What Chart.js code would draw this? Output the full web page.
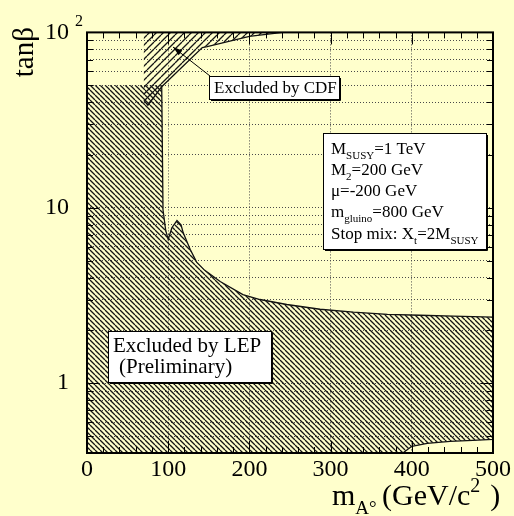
<!DOCTYPE html>
<html>
<head>
<meta charset="utf-8">
<script src="https://cdn.jsdelivr.net/npm/chart.js@4.4.1/dist/chart.umd.min.js"></script>
<style>
  html, body { margin: 0; padding: 0; background: #ffffcc; }
  #wrap { width: 514px; height: 516px; }
</style>
</head>
<body>
<div id="wrap"><canvas id="exclusion" width="514" height="516"></canvas></div>
<script>
// LEP excluded region: outline walked from the upper-left corner, along the limit curve,
// down the right edge, back along the low-tanb cut and the bottom edge
const lepMass = [0, 92, 93.6, 97, 100, 104.5, 110.8, 115.8, 118.5, 127, 135, 145, 164, 192, 213, 246, 287, 328, 370, 410, 451, 500,
                 500, 475, 447, 419, 400, 389, 0];
const lepTanb = [50, 50, 9.75, 7.4, 6.6, 7.7, 8.45, 8.0, 7.2, 5.8, 4.9, 4.4, 3.8, 3.2, 3.0, 2.81, 2.64, 2.54, 2.47, 2.44, 2.41, 2.38,
                 0.478, 0.472, 0.466, 0.454, 0.437, 0.4, 0.4];

// CDF excluded region (high tanb)
const cdfMass = [70, 70, 75, 92, 142, 148, 200, 241];
const cdfTanb = [100, 41, 38.5, 49, 82, 83, 95, 100];

// axis ranges and tick values
const massRange = [0, 500];
const tanbRange = [0.4, 100];
const tanbTicks = [0.5, 0.6, 0.7, 0.8, 0.9, 1, 2, 3, 4, 5, 6, 7, 8, 9, 10, 20, 30, 40, 50, 60, 70, 80, 90, 100];
const tanbLabelled = [1, 10, 100];

const SERIF = '"Liberation Serif", "DejaVu Serif", serif';

const canvas = document.getElementById('exclusion');
const ctx = canvas.getContext('2d');

// diagonal hatching, forward = '/' lines, otherwise '\'
function hatch(step, forward) {
    const c = document.createElement('canvas');
    c.width = c.height = step;
    const g = c.getContext('2d');
    g.strokeStyle = '#151515';
    g.lineWidth = 1.3;
    g.beginPath();
    for (const o of [-step, 0, step]) {
        if (forward) { g.moveTo(o, step); g.lineTo(o + step, 0); }
        else { g.moveTo(o, 0); g.lineTo(o + step, step); }
    }
    g.stroke();
    return ctx.createPattern(c, 'repeat');
}

function toPoints(xs, ys) {
    return xs.map((x, i) => ({ x: x, y: ys[i] }));
}

// small helper for text with sub/superscripts
function richText(g, x, y, runs, size) {
    for (const [txt, kind] of runs) {
        let s = size, dy = 0;
        if (kind === 'sub') { s = Math.round(size * 0.62); dy = size * 0.3; }
        if (kind === 'sup') { s = Math.round(size * 0.65); dy = -size * 0.45; }
        g.font = s + 'px ' + SERIF;
        g.fillText(txt, x, y + dy);
        x += g.measureText(txt).width;
    }
    return x;
}

function pave(g, x, y, w, h) {
    g.fillStyle = '#ffffff';
    g.fillRect(x, y, w, h);
    g.strokeStyle = '#000';
    g.lineWidth = 1;
    g.strokeRect(x + 0.5, y + 0.5, w, h);
    g.beginPath();
    g.moveTo(x + w + 1.5, y + 2);
    g.lineTo(x + w + 1.5, y + h + 1.5);
    g.lineTo(x + 2, y + h + 1.5);
    g.stroke();
    g.fillStyle = '#000';
}

const decorations = {
    id: 'decorations',
    afterDraw(chart) {
        const g = chart.ctx;
        const xs = chart.scales.x, ys = chart.scales.y;
        const ca = chart.chartArea;
        g.save();

        // tick marks on all four sides
        g.strokeStyle = '#000';
        g.lineWidth = 1;
        g.beginPath();
        for (const v of tanbTicks) {
            const py = Math.round(ys.getPixelForValue(v)) + 0.5;
            const len = tanbLabelled.includes(v) ? 12 : 6;
            g.moveTo(ca.left, py); g.lineTo(ca.left + len, py);
            g.moveTo(ca.right, py); g.lineTo(ca.right - len, py);
        }
        for (let v = massRange[0]; v <= massRange[1]; v += 20) {
            const px = Math.round(xs.getPixelForValue(v)) + 0.5;
            const len = v % 100 === 0 ? 12 : 6;
            g.moveTo(px, ca.bottom); g.lineTo(px, ca.bottom - len);
            g.moveTo(px, ca.top); g.lineTo(px, ca.top + len);
        }
        g.stroke();

        // frame
        g.lineWidth = 2;
        g.strokeRect(ca.left, ca.top, ca.right - ca.left, ca.bottom - ca.top);

        g.fillStyle = '#000';
        g.textBaseline = 'alphabetic';
        g.textAlign = 'left';

        // exponent of the top y label
        g.font = '16px ' + SERIF;
        g.fillText('2', 75, 26);

        // axis titles
        g.save();
        g.translate(33, 27);
        g.rotate(-Math.PI / 2);
        g.textAlign = 'right';
        g.font = '29px ' + SERIF;
        g.fillText('tan\u03b2', 0, 0);
        g.restore();

        richText(g, 332, 505, [['m'], ['A\u00b0', 'sub']], 30);
        let tx = richText(g, 382, 505, [['(GeV/c'], ['2', 'sup']], 30);
        g.font = '30px ' + SERIF;
        g.fillText(')', tx + 10, 505);

        // CDF label with arrow
        g.strokeStyle = '#000';
        g.lineWidth = 1;
        g.beginPath();
        g.moveTo(210, 76);
        g.lineTo(173, 47);
        g.stroke();
        const ang = Math.atan2(47 - 76, 173 - 210);
        g.beginPath();
        g.moveTo(173, 47);
        g.lineTo(173 - 10 * Math.cos(ang - 0.3), 47 - 10 * Math.sin(ang - 0.3));
        g.lineTo(173 - 10 * Math.cos(ang + 0.3), 47 - 10 * Math.sin(ang + 0.3));
        g.closePath();
        g.fill();

        pave(g, 209, 76, 130, 23);
        g.font = '17px ' + SERIF;
        g.fillText('Excluded by CDF', 214, 93);

        // LEP label
        pave(g, 108, 331, 163, 51);
        g.font = '21px ' + SERIF;
        g.fillText('Excluded by LEP', 113, 352);
        g.fillText('(Preliminary)', 119, 373);

        // parameter box
        pave(g, 323, 133, 163, 116);
        const lines = [
            [['M'], ['SUSY', 'sub'], ['=1 TeV']],
            [['M'], ['2', 'sub'], ['=200 GeV']],
            [['\u03bc=-200 GeV']],
            [['m'], ['gluino', 'sub'], ['=800 GeV']],
            [['Stop mix: X'], ['t', 'sub'], ['=2M'], ['SUSY', 'sub']]
        ];
        const base = [154, 175, 196, 217, 239];
        lines.forEach((runs, i) => richText(g, 331, base[i], runs, 17));

        g.restore();
    }
};

const gridStyle = { color: '#4a4a4a', lineWidth: 1, drawTicks: false };

// filled region (no outline) plus its limit curve drawn on top
function region(label, xs, ys, pattern) {
    return [
        {
            label: label,
            data: toPoints(xs, ys),
            showLine: true,
            fill: 'shape',
            backgroundColor: pattern,
            borderWidth: 0,
            pointRadius: 0
        },
        {
            label: label + ' limit',
            data: toPoints(xs, ys).slice(1),
            showLine: true,
            fill: false,
            borderColor: '#111',
            borderWidth: 1.3,
            pointRadius: 0
        }
    ];
}

new Chart(ctx, {
    type: 'scatter',
    data: {
        datasets: [
            ...region('LEP', lepMass, lepTanb, hatch(5, false)),
            ...region('CDF', cdfMass, cdfTanb, hatch(7, true))
        ]
    },
    options: {
        responsive: false,
        animation: false,
        layout: { padding: { top: 27, right: 21, left: 0, bottom: 0 } },
        plugins: { legend: { display: false }, tooltip: { enabled: false } },
        scales: {
            x: {
                type: 'linear',
                min: massRange[0],
                max: massRange[1],
                grid: gridStyle,
                border: { display: false, dash: [1, 2] },
                ticks: {
                    stepSize: 100,
                    padding: 2,
                    color: '#000',
                    font: { family: SERIF, size: 24 }
                },
                afterFit: s => { s.height = 63; }
            },
            y: {
                type: 'logarithmic',
                min: tanbRange[0],
                max: tanbRange[1],
                grid: gridStyle,
                border: { display: false, dash: [1, 2] },
                afterBuildTicks: s => { s.ticks = tanbTicks.map(v => ({ value: v })); },
                ticks: {
                    autoSkip: false,
                    padding: 18,
                    color: '#000',
                    font: { family: SERIF, size: 24 },
                    callback: v => tanbLabelled.includes(v) ? (v === 100 ? '10' : String(v)) : ''
                },
                afterFit: s => { s.width = 87; }
            }
        }
    },
    plugins: [decorations]
});
</script>
</body>
</html>
